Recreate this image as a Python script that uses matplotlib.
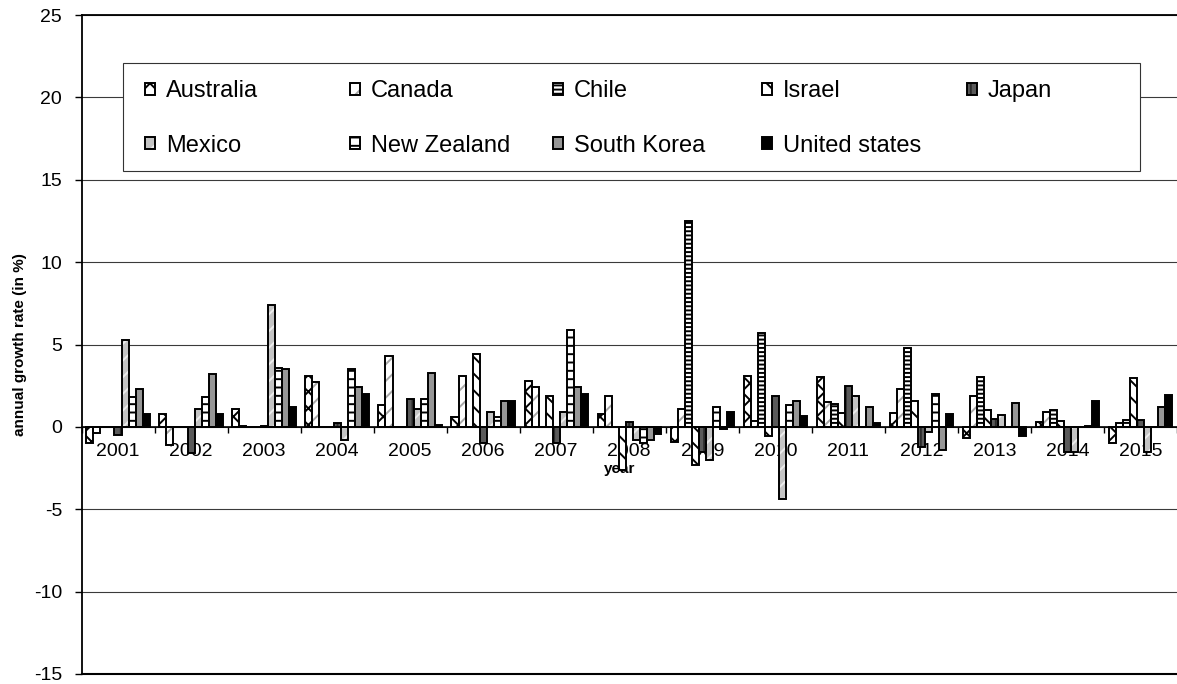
import numpy as np
import matplotlib
matplotlib.use("Agg")
import matplotlib.pyplot as plt
from matplotlib.patches import Rectangle
from matplotlib.legend import Legend

plt.rcParams["font.family"] = "Liberation Sans"
plt.rcParams["hatch.linewidth"] = 1.4
plt.rcParams["axes.unicode_minus"] = False

# ---- data: annual growth rate (in %) by year ----
years = [str(y) for y in range(2001, 2016)]
countries = ["Australia", "Canada", "Chile", "Israel", "Japan",
             "Mexico", "New Zealand", "South Korea", "United states"]

australia   = [-1.0, 0.8, 1.1, 3.1, 1.3, 0.6, 2.8, 0.8, -0.9, 3.1, 3.0, 0.85, -0.7, 0.3, -1.0]
canada      = [-0.4, -1.1, 0.05, 2.7, 4.3, 3.1, 2.4, 1.9, 1.1, 0.35, 1.5, 2.3, 1.9, 0.9, 0.25]
chile       = [0.0, 0.0, 0.0, 0.0, 0.0, 0.0, 0.0, 0.0, 12.5, 5.7, 1.4, 4.8, 3.0, 1.0, 0.4]
israel      = [0.0, 0.0, 0.0, 0.0, 0.0, 4.4, 1.9, -2.6, -2.3, -0.55, 0.85, 1.55, 1.0, 0.35, 2.95]
japan       = [-0.5, -1.6, 0.03, 0.25, 1.7, -1.0, -1.0, 0.3, -1.5, 1.9, 2.5, -1.2, 0.5, -1.5, 0.4]
mexico      = [5.3, 1.1, 7.4, -0.8, 1.1, 0.9, 0.9, -0.8, -2.0, -4.4, 1.85, -0.3, 0.7, -1.5, -1.5]
new_zealand = [1.8, 1.8, 3.6, 3.5, 1.7, 0.6, 5.9, -1.0, 1.2, 1.35, 0.0, 2.0, 0.0, 0.0, 0.0]
south_korea = [2.3, 3.2, 3.5, 2.4, 3.3, 1.6, 2.4, -0.8, -0.1, 1.6, 1.2, -1.4, 1.45, 0.05, 1.2]
us          = [0.8, 0.8, 1.2, 2.0, 0.1, 1.6, 2.0, -0.45, 0.9, 0.65, 0.25, 0.8, -0.55, 1.6, 1.95]

series = [australia, canada, chile, israel, japan, mexico, new_zealand, south_korea, us]

# fill face, hatch pattern, hatch colour for each country
styles = [
    ("white",   "xx",   "black"),
    ("white",   "//",   "#a8a8a8"),
    ("white",   "----", "black"),
    ("white",   "\\\\", "black"),
    ("#5a5a5a", "||",   "#2a2a2a"),
    ("#c4c4c4", "//",   "#ececec"),
    ("white",   "--",   "black"),
    ("#969696", "",     "#969696"),
    ("black",   "",     "black"),
]

W, H = 1177, 684
fig = plt.figure(figsize=(W / 100, H / 100), dpi=100)
ax = fig.add_axes([81.5 / W, 1 - 674 / H, (W - 81.5) / W, (674 - 15) / H])

x = np.arange(len(years))
bw = 0.0965
handles = []
for j, (vals, (face, hatch, hcol)) in enumerate(zip(series, styles)):
    pos = x + (j - 4) * bw
    filled = ax.bar(pos, vals, bw, color=face, edgecolor=hcol, linewidth=0,
                    hatch=hatch, zorder=2)
    outline = ax.bar(pos, vals, bw, fill=False, edgecolor="black",
                     linewidth=1.4, zorder=3)
    handles.append((filled.patches[0], outline.patches[0]))

# axes limits and ticks
ax.set_xlim(-0.5, len(years) - 0.5)
ax.set_ylim(-15, 25)
ax.set_yticks(np.arange(-15, 26, 5))
ax.set_xticks(x)
ax.set_xticklabels(years)
ax.set_xticks(np.arange(len(years) + 1) - 0.5, minor=True)
ax.tick_params(axis="x", which="major", length=0, pad=11.5, labelsize=14)
ax.tick_params(axis="x", which="minor", length=4, width=1, direction="out")
ax.tick_params(axis="y", length=5, width=1, direction="out", pad=9, labelsize=14)

# category axis crosses at zero
ax.spines["bottom"].set_position(("data", 0))
ax.spines["bottom"].set_linewidth(1.2)
ax.spines["right"].set_visible(False)
ax.spines["left"].set_linewidth(1.3)
ax.spines["top"].set_linewidth(1.3)
ax.axhline(-15, color="black", linewidth=1.5, clip_on=False, zorder=5)

ax.set_axisbelow(True)
ax.yaxis.grid(True, color="#3a3a3a", linewidth=0.8)

ax.set_xlabel("year", fontsize=11, fontweight="bold")
ax.xaxis.set_label_coords((620 - 81.5) / (W - 81.5), (674 - 462) / 659)
ax.set_ylabel("annual growth rate (in %)", fontsize=11, fontweight="bold")
ax.yaxis.set_label_coords(-0.05, 0.5)

# legend box with five evenly spaced columns
frame = Rectangle((123 / W, 1 - 171 / H), (1140 - 123) / W, 108 / H,
                  transform=fig.transFigure, facecolor="white",
                  edgecolor="#333333", linewidth=0.8, zorder=4, clip_on=False)
ax.add_artist(frame)

col_x = [145, 350, 553, 762, 967]
for c, cx in enumerate(col_x):
    idx = [i for i in (c, c + 5) if i < len(countries)]
    leg = Legend(ax, [handles[i] for i in idx], [countries[i] for i in idx],
                 loc="upper left", bbox_to_anchor=(cx / W, 1 - 80.4 / H),
                 bbox_transform=fig.transFigure, frameon=False,
                 borderpad=0, borderaxespad=0, handlelength=0.42,
                 handleheight=0.42, handletextpad=0.47, labelspacing=1.36,
                 prop={"family": "Liberation Sans", "size": 17})
    leg.set_zorder(6)
    ax.add_artist(leg)

fig.savefig("out.png", dpi=100)
